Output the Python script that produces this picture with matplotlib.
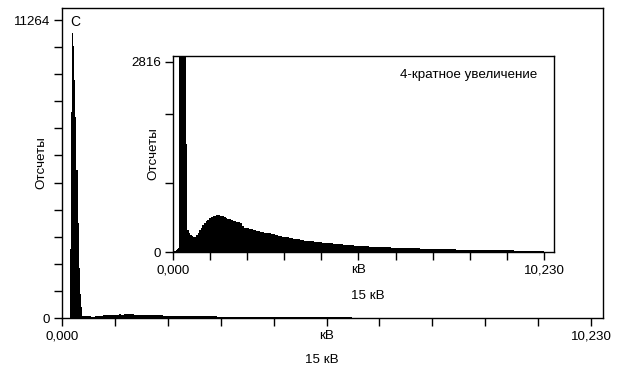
import matplotlib
matplotlib.use("Agg")
import matplotlib.pyplot as plt
import numpy as np

plt.rcParams['font.family'] = ['Liberation Sans', 'DejaVu Sans']
plt.rcParams['font.size'] = 9.6

# границы каналов (кэВ) и отсчеты спектра (масштаб основного графика)
edges = [0.00, 0.04, 0.08, 0.12, 0.14, 0.16, 0.18, 0.20, 0.22, 0.24, 0.26,
         0.28, 0.30, 0.32, 0.34, 0.36, 0.38, 0.40, 0.44, 0.48, 0.52, 0.56,
         0.60, 0.64, 0.68, 0.72, 0.76, 0.80, 0.85, 0.90, 0.95, 1.00, 1.05,
         1.10, 1.15, 1.20, 1.25, 1.30, 1.35, 1.40, 1.45, 1.50, 1.55, 1.60,
         1.65, 1.70, 1.75, 1.80, 1.85, 1.90, 1.95, 2.00, 2.1, 2.2, 2.3, 2.4,
         2.5, 2.6, 2.7, 2.8, 2.9, 3.0, 3.1, 3.2, 3.3, 3.4, 3.5, 3.6, 3.7,
         3.8, 3.9, 4.0, 4.1, 4.2, 4.3, 4.4, 4.5, 4.6, 4.7, 4.8, 4.9, 5.0,
         5.2, 5.4, 5.6, 5.8, 6.0, 6.2, 6.4, 6.6, 6.8, 7.0, 7.2, 7.4, 7.6,
         7.8, 8.0, 8.2, 8.4, 8.6, 8.8, 9.0, 9.2, 9.4, 9.6, 9.8, 10.0, 10.23]
counts = [3, 5, 8, 12, 14, 2600, 7800, 10760, 10300, 9000, 7600,
          5600, 3600, 1900, 900, 400, 94, 80, 70, 63, 59, 55,
          56, 64, 72, 82, 90, 99, 106, 114, 120, 126, 129,
          134, 132, 136, 138, 135, 133, 130, 126, 124, 121, 118,
          116, 114, 112, 110, 108, 95, 90, 88, 84, 81, 77,
          75, 72, 70, 66, 64, 61, 57, 54, 51, 49, 47, 44, 42,
          40, 39, 37, 35.5, 34, 33, 32, 31, 30, 29, 27.5, 26.5, 25.5,
          24, 22.5, 20, 18.5, 17, 16, 15, 14, 13.5, 12.5, 12, 11, 10.5,
          10, 9.2, 8.8, 8.2, 7.8, 7.2, 6.8, 6.2, 5.8, 5.2, 4.8, 4.2, 3.8]
zoom = 4  # 4-кратное увеличение

xticks = np.arange(11) * 1.023
xlabels = ['0,000', '', '', '', '', 'кВ', '', '', '', '', '10,230']
main_yticks = np.arange(12) * 1024
main_ylabels = ['0'] + [''] * 10 + ['11264']
ins_yticks = [0, 1024, 2048, 2816]
ins_ylabels = ['0', '', '', '2816']


def style(ax):
    for s in ax.spines.values():
        s.set_linewidth(1.0)
    ax.tick_params(direction='out', length=5.8, width=1.0, pad=3)


fig = plt.figure(figsize=(6.18, 3.74), dpi=100)

ax = fig.add_axes([0.1003, 0.1497, 0.8754, 0.8289])
ax.stairs(counts, edges, fill=True, color='black', linewidth=0.6)
ax.set_xlim(0, 10.46)
ax.set_ylim(0, 11718)
ax.set_xticks(xticks, xlabels)
ax.set_yticks(main_yticks, main_ylabels)
style(ax)
ax.set_ylabel('Отсчеты')
ax.yaxis.set_label_coords(-0.027, 0.5)
ax.text(5.02, -0.135, '15 кВ', transform=ax.get_xaxis_transform(),
        ha='center', va='center')
ax.text(0.25, 11200, 'C', ha='center', va='center', fontsize=10)

ins = fig.add_axes([0.2799, 0.3262, 0.6165, 0.5241])
ins.set_facecolor('white')
ins.stairs(np.array(counts) * zoom, edges, fill=True, color='black',
           linewidth=0.6)
ins.set_xlim(0, 10.506)
ins.set_ylim(0, 2905)
ins.set_xticks(xticks, xlabels)
ins.set_yticks(ins_yticks, ins_ylabels)
style(ins)
ins.set_ylabel('Отсчеты')
ins.yaxis.set_label_coords(-0.035, 0.5)
ins.text(0.512, -0.222, '15 кВ', transform=ins.transAxes,
         ha='center', va='center')
ins.text(0.955, 0.903, '4-кратное увеличение', transform=ins.transAxes,
         ha='right', va='center')

fig.savefig('out.png', dpi=100)
